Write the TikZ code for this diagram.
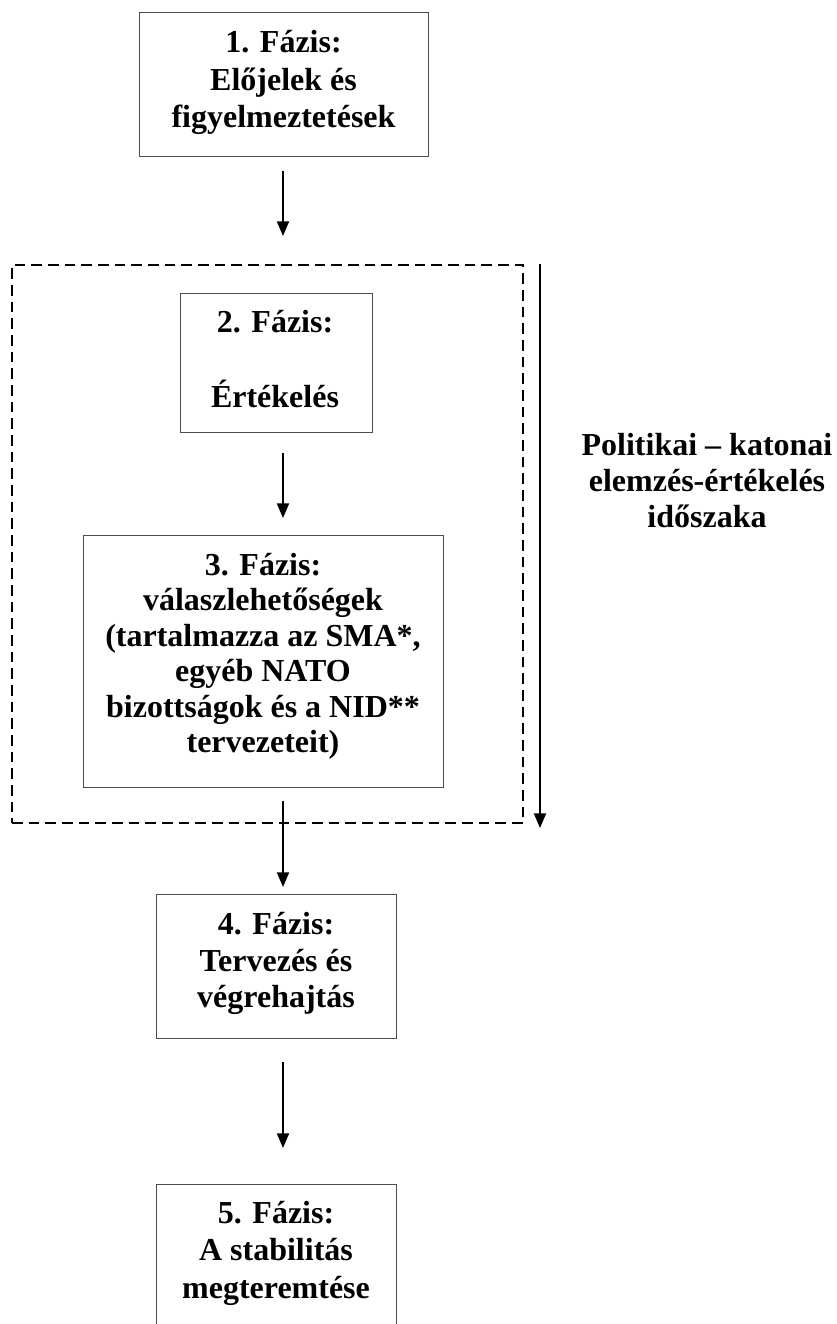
\documentclass[tikz,border=0pt]{standalone}
\usepackage{fontspec}
\setmainfont{Liberation Serif}
\usetikzlibrary{arrows.meta}
\begin{document}
\begin{tikzpicture}[x=0.75pt,y=-0.75pt,
  box/.style={draw=black!70,line width=0.75pt,inner sep=0pt,outer sep=0pt,rectangle},
  frm/.style={draw=black,line width=1.1pt,dash pattern=on 8pt off 4.5pt,inner sep=0pt,outer sep=0pt,rectangle},
  txt/.style={anchor=base,inner sep=0pt,outer sep=0pt,font=\bfseries\fontsize{24}{27}\selectfont},
  arr/.style={draw=black,line width=1.5pt,-{Triangle[length=11pt,width=9pt]}}]
\clip (0,0) rectangle (837,1324);
\fill[white] (0,0) rectangle (837,1324);
% frame and boxes
\node[frm,minimum width=383.25pt,minimum height=418.5pt] (frame) at (267.5,544) {};
\node[box,minimum width=216.75pt,minimum height=108pt] (b1) at (283.5,84) {};
\node[box,minimum width=144pt,minimum height=104.25pt] (b2) at (276,362.5) {};
\node[box,minimum width=270pt,minimum height=189pt] (b3) at (263,661) {};
\node[box,minimum width=180pt,minimum height=108pt] (b4) at (276,966) {};
\node[box,minimum width=180pt,minimum height=108pt] (b5) at (276,1256) {};
\coordinate (col) at (283,0);
% texts
\node[txt] (t11) at (283.5,52) {1. Fázis:};
\node[txt] (t12) at (283.5,90) {Előjelek és};
\node[txt] (t13) at (283.5,127) {figyelmeztetések};
\node[txt] (t21) at (275,332) {2. Fázis:};
\node[txt] (t22) at (275,407) {Értékelés};
\node[txt] (t31) at (263,575) {3. Fázis:};
\node[txt] (t32) at (263,610.5) {válaszlehetőségek};
\node[txt] (t33) at (263,646) {(tartalmazza az SMA*,};
\node[txt] (t34) at (263,681.5) {egyéb NATO};
\node[txt] (t35) at (263,717) {bizottságok és a NID**};
\node[txt] (t36) at (263,752.5) {tervezeteit)};
\node[txt] (t41) at (276,934) {4. Fázis:};
\node[txt] (t42) at (276,971) {Tervezés és};
\node[txt] (t43) at (276,1007) {végrehajtás};
\node[txt] (t51) at (276,1223) {5. Fázis:};
\node[txt] (t52) at (276,1260) {A stabilitás};
\node[txt] (t53) at (276,1298) {megteremtése};
\node[txt] (r1) at (707,455) {Politikai – katonai};
\node[txt] (r2) at (707,491) {elemzés-értékelés};
\node[txt] (r3) at (707,527) {időszaka};
% connectors
\draw[arr,shorten <=11.25pt,shorten >=42.75pt] (b1.south -| col) -- (b2.north -| col);
\draw[arr,shorten <=15.75pt,shorten >=12.75pt] (b2.south -| col) -- (b3.north -| col);
\draw[arr,shorten <=10.5pt,shorten >=5.25pt] (b3.south -| col) -- (b4.north -| col);
\draw[arr,shorten <=18pt,shorten >=27pt] (b4.south -| col) -- (b5.north -| col);
\draw[arr] ([xshift=12.75pt,yshift=0.75pt]frame.north east) -- ([xshift=12.75pt,yshift=-3.75pt]frame.south east);
\end{tikzpicture}
\end{document}
